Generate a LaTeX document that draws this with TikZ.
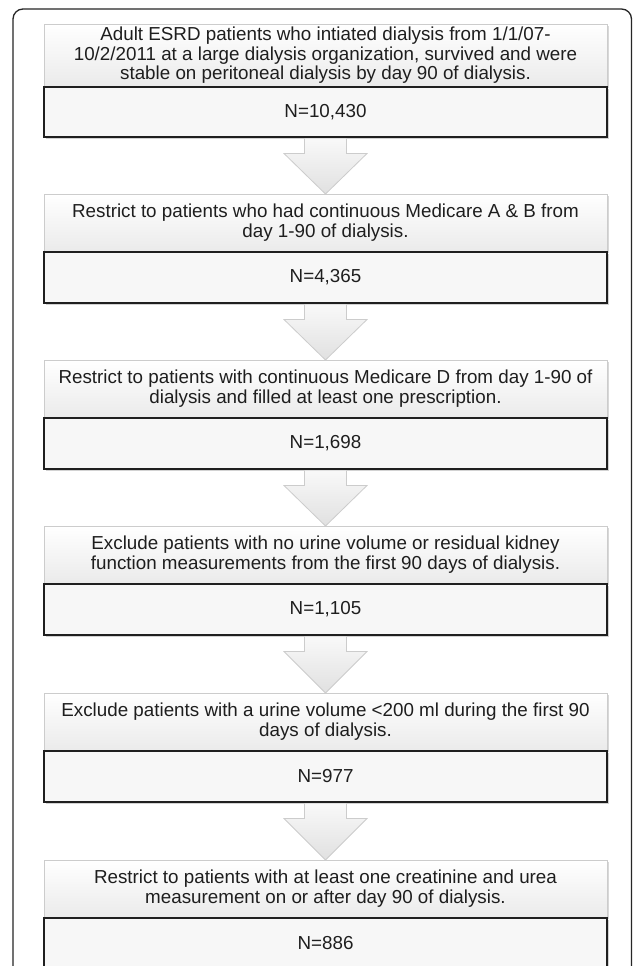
\documentclass[tikz,border=0pt]{standalone}
\usepackage{fontspec}
\setmainfont{Liberation Sans}
\usetikzlibrary{calc,shadows}
\definecolor{txt}{HTML}{1E1E1E}
\newcommand\boxfont{\fontsize{18.8pt}{19.2pt}\selectfont}
\tikzset{
  tpart/.style={draw=gray!40, top color=white, bottom color=gray!16, minimum width=563pt,
    inner sep=0pt, align=center, font=\boxfont, text=txt, anchor=north,
    drop shadow={opacity=0.3, shadow xshift=1.5pt, shadow yshift=-1.5pt}},
  npart/.style={draw=black!88, fill=gray!6, line width=1.1pt, minimum width=563pt,
    minimum height=51pt, inner sep=0pt, font=\boxfont, text=txt, anchor=north,
    drop shadow={opacity=0.35, shadow xshift=1.5pt, shadow yshift=-2pt}},
  arrowshape/.style={draw=gray!40, top color=gray!5, bottom color=gray!24, line width=0.8pt},
  frame/.style={draw=black!85, line width=1.3pt, rounded corners=10pt}
}
\begin{document}
\begin{tikzpicture}[x=1pt,y=-1pt]
\path[use as bounding box] (0,0) rectangle (633,966);
\clip (0,0) rectangle (633,966);
\fill[white] (0,0) rectangle (633,966);
\draw[frame] (13,990) -- (13,9) -- (631.5,9) -- (631.5,990);

% boxes
\node[tpart, minimum height=62pt] (t1) at (325.5,24)
  {Adult ESRD patients who intiated dialysis from 1/1/07-\\10/2/2011 at a large dialysis organization, survived and were\\stable on peritoneal dialysis by day 90 of dialysis.};
\node[npart, minimum height=50pt] (n1) at (t1.south) {N=10,430};

\node[tpart, minimum height=57pt] (t2) at (325.5,194)
  {Restrict to patients who had continuous Medicare A \& B from\\day 1-90 of dialysis.};
\node[npart] (n2) at (t2.south) {N=4,365};

\node[tpart, minimum height=57pt] (t3) at (325.5,360)
  {Restrict to patients with continuous Medicare D from day 1-90 of\\dialysis and filled at least one prescription.};
\node[npart] (n3) at (t3.south) {N=1,698};

\node[tpart, minimum height=57pt] (t4) at (325.5,526)
  {Exclude patients with no urine volume or residual kidney\\function measurements from the first 90 days of dialysis.};
\node[npart] (n4) at (t4.south) {N=1,105};

\node[tpart, minimum height=57pt] (t5) at (325.5,693)
  {Exclude patients with a urine volume <200 ml during the first 90\\days of dialysis.};
\node[npart] (n5) at (t5.south) {N=977};

\node[tpart, minimum height=57pt] (t6) at (325.5,860)
  {Restrict to patients with at least one creatinine and urea\\measurement on or after day 90 of dialysis.};
\node[npart] (n6) at (t6.south) {N=886};

% arrows
\foreach \a/\b in {n1/t2,n2/t3,n3/t4,n4/t5,n5/t6}{
  \draw[arrowshape]
    ($(\a.south)+(-21,1)$) -- ($(\a.south)+(-21,16)$) -- ($(\a.south)+(-41.5,16)$)
    -- ($(\b.north)+(0,0)$) -- ($(\a.south)+(41.5,16)$) -- ($(\a.south)+(21,16)$)
    -- ($(\a.south)+(21,1)$);
}
\end{tikzpicture}
\end{document}
